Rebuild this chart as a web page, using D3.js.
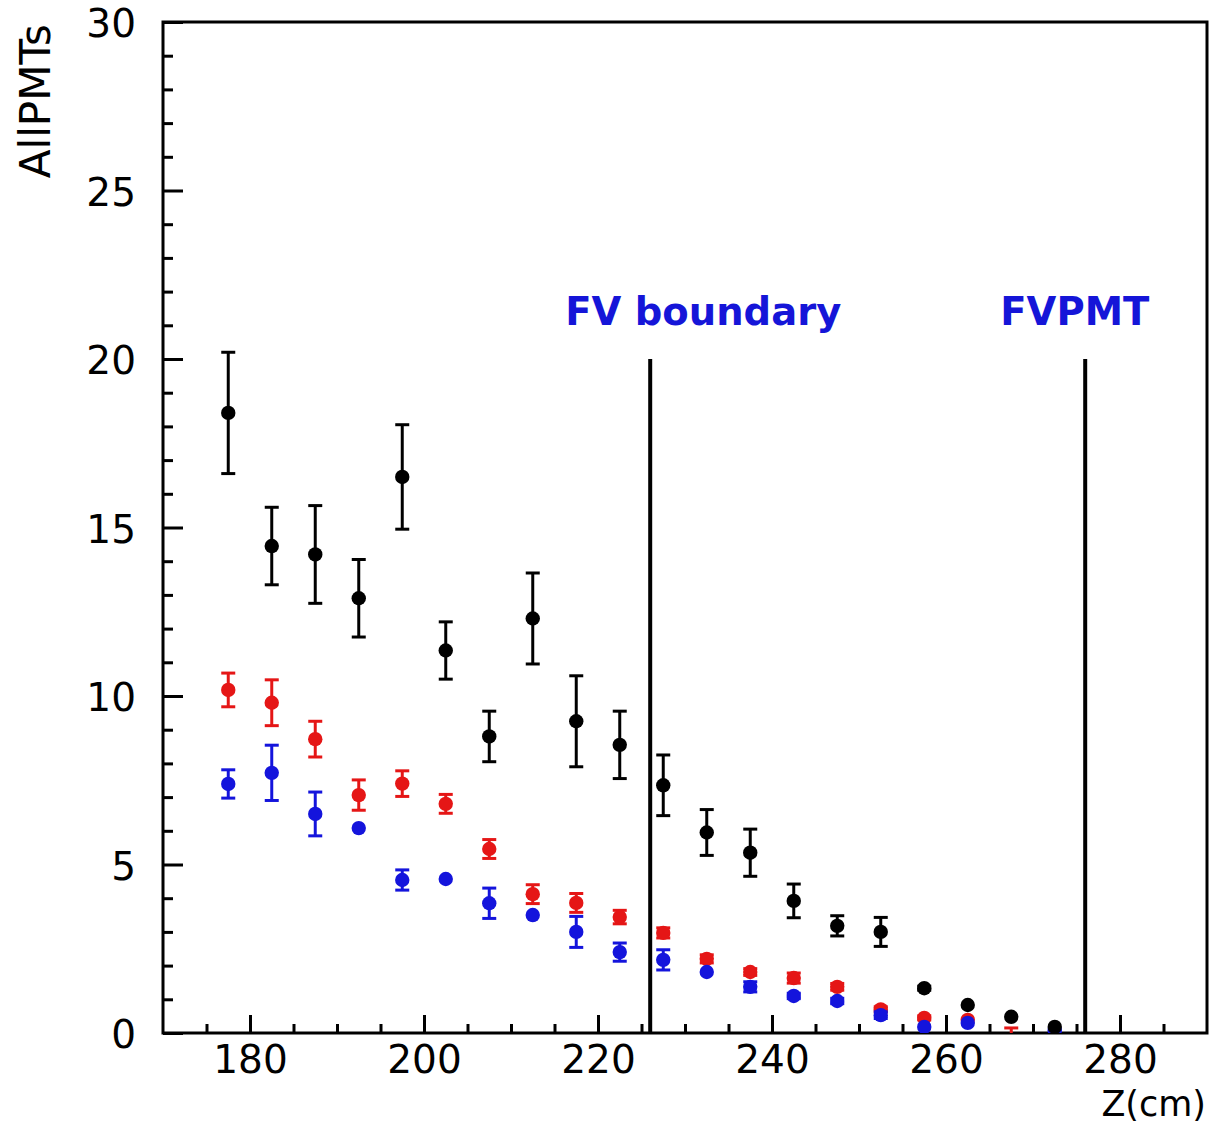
<!DOCTYPE html>
<html>
<head>
<meta charset="utf-8">
<script src="https://cdn.jsdelivr.net/npm/d3@7"></script>
<style>
  html, body { margin: 0; padding: 0; background: #fff; }
  svg { display: block; }
  text { font-family: "DejaVu Sans", sans-serif; }
</style>
</head>
<body>
<svg id="chart" width="1210" height="1124"></svg>
<script>
// ---- data ----
const zValues = [177.5,182.5,187.5,192.5,197.5,202.5,207.5,212.5,217.5,222.5,227.5,232.5,237.5,242.5,247.5,252.5,257.5,262.5,267.5,272.5];

const blackVals = [18.4,14.45,14.2,12.9,16.5,11.35,8.8,12.3,9.25,8.55,7.35,5.95,5.35,3.92,3.18,3.0,1.33,0.83,0.48,0.18];
const blackErrs = [1.8,1.15,1.45,1.15,1.55,0.85,0.75,1.35,1.35,1.0,0.9,0.68,0.7,0.5,0.3,0.43,0.06,0.05,0.04,0.03];

const redVals = [10.18,9.8,8.72,7.06,7.4,6.8,5.46,4.12,3.86,3.44,2.97,2.2,1.81,1.63,1.37,0.7,0.45,0.39,0.0,null];
const redErrs = [0.5,0.68,0.53,0.45,0.38,0.28,0.28,0.28,0.28,0.2,0.15,0.12,0.1,0.15,0.1,0.08,0.06,0.05,0.15,null];

const blueVals = [7.39,7.72,6.5,6.08,4.54,4.57,3.85,3.5,3.0,2.4,2.17,1.81,1.37,1.1,0.95,0.53,0.18,0.3,null,0.08];
const blueErrs = [0.42,0.82,0.65,0.03,0.3,0.03,0.45,0.05,0.46,0.27,0.3,0.05,0.15,0.08,0.08,0.1,0.05,0.05,null,0.05];

const xTicksMajor = [180,200,220,240,260,280];
const yTicksMajor = [0,5,10,15,20,25,30];

const boundaryZ = [226, 276];
const boundaryTop = 20;
const boundaryLabels = ["FV boundary", "FVPMT"];
const boundaryLabelZ = [232.1, 274.8];
const boundaryLabelY = 21.0;

const xTitle = "Z(cm)";
const yTitle = "AllPMTs";

// ---- layout ----
const svg = d3.select("#chart");
const L = 163, R = 1207, T = 22, B = 1033;
const x = d3.scaleLinear().domain([170, 290]).range([L, R]);
const y = d3.scaleLinear().domain([0, 30]).range([B, T]);

svg.append("defs").append("clipPath").attr("id", "plotclip")
  .append("rect").attr("x", L).attr("y", T).attr("width", R - L).attr("height", B - T);

// frame
svg.append("rect").attr("x", L).attr("y", T).attr("width", R - L).attr("height", B - T)
  .attr("fill", "none").attr("stroke", "#000").attr("stroke-width", 3);

// x axis ticks (inside)
const xMinor = d3.range(175, 290, 5).filter(v => xTicksMajor.indexOf(v) < 0);
const xAxisMajor = d3.axisBottom(x).tickValues(xTicksMajor).tickSizeInner(-18).tickSizeOuter(0).tickPadding(12).tickFormat(d3.format("d"));
const xAxisMinor = d3.axisBottom(x).tickValues(xMinor).tickSizeInner(-9).tickSizeOuter(0).tickFormat("");
const gx = svg.append("g").attr("transform", `translate(0,${B})`).call(xAxisMajor);
const gxm = svg.append("g").attr("transform", `translate(0,${B})`).call(xAxisMinor);
[gx, gxm].forEach(g => {
  g.select(".domain").remove();
  g.selectAll("line").attr("stroke", "#000").attr("stroke-width", 3);
});
gx.selectAll("text").attr("font-size", 39).attr("fill", "#000")
  .attr("font-family", "DejaVu Sans, sans-serif");

// y axis ticks (inside)
const yMinor = d3.range(1, 30, 1).filter(v => v % 5 !== 0);
const yAxisMajor = d3.axisLeft(y).tickValues(yTicksMajor).tickSizeInner(-20).tickSizeOuter(0).tickPadding(27).tickFormat(d3.format("d"));
const yAxisMinor = d3.axisLeft(y).tickValues(yMinor).tickSizeInner(-10).tickSizeOuter(0).tickFormat("");
const gy = svg.append("g").attr("transform", `translate(${L},0)`).call(yAxisMajor);
const gym = svg.append("g").attr("transform", `translate(${L},0)`).call(yAxisMinor);
[gy, gym].forEach(g => {
  g.select(".domain").remove();
  g.selectAll("line").attr("stroke", "#000").attr("stroke-width", 3);
});
gy.selectAll("text").attr("font-size", 39).attr("fill", "#000")
  .attr("font-family", "DejaVu Sans, sans-serif").attr("dy", "0.38em");

// axis titles
svg.append("text").attr("x", 1206).attr("y", 1115.5).attr("text-anchor", "end")
  .attr("font-size", 35).attr("fill", "#000").text(xTitle);
svg.append("text").attr("transform", `translate(50,24) rotate(-90)`).attr("text-anchor", "end")
  .attr("font-size", 42).attr("fill", "#000").text(yTitle);

// boundary lines
svg.append("g").selectAll("line").data(boundaryZ).join("line")
  .attr("x1", d => x(d)).attr("x2", d => x(d))
  .attr("y1", y(boundaryTop)).attr("y2", y(0))
  .attr("stroke", "#000").attr("stroke-width", 4);

svg.append("g").selectAll("text").data(boundaryLabels).join("text")
  .attr("x", (d, i) => x(boundaryLabelZ[i])).attr("y", y(boundaryLabelY))
  .attr("text-anchor", "middle").attr("font-weight", "bold").attr("font-size", 38.5)
  .attr("fill", "#1515d8").text(d => d);

// series
function drawSeries(vals, errs, color) {
  const pts = zValues.map((z, i) => ({ z, v: vals[i], e: errs[i] })).filter(p => p.v !== null);
  const g = svg.append("g").attr("clip-path", "url(#plotclip)");
  const cap = 7;
  pts.forEach(p => {
    const y0 = y(p.v - p.e), y1 = y(p.v + p.e);
    if (y0 - y1 > 4) {
      g.append("line").attr("x1", x(p.z)).attr("x2", x(p.z)).attr("y1", y1).attr("y2", y0)
        .attr("stroke", color).attr("stroke-width", 3);
      g.append("line").attr("x1", x(p.z) - cap).attr("x2", x(p.z) + cap).attr("y1", y1).attr("y2", y1)
        .attr("stroke", color).attr("stroke-width", 3);
      g.append("line").attr("x1", x(p.z) - cap).attr("x2", x(p.z) + cap).attr("y1", y0).attr("y2", y0)
        .attr("stroke", color).attr("stroke-width", 3);
    }
  });
  g.selectAll("circle").data(pts.filter(p => p.v > 0)).join("circle")
    .attr("cx", p => x(p.z)).attr("cy", p => y(p.v)).attr("r", 7.2).attr("fill", color);
}

drawSeries(redVals, redErrs, "#e51616");
drawSeries(blueVals, blueErrs, "#1414dc");
drawSeries(blackVals, blackErrs, "#000");
</script>
</body>
</html>
